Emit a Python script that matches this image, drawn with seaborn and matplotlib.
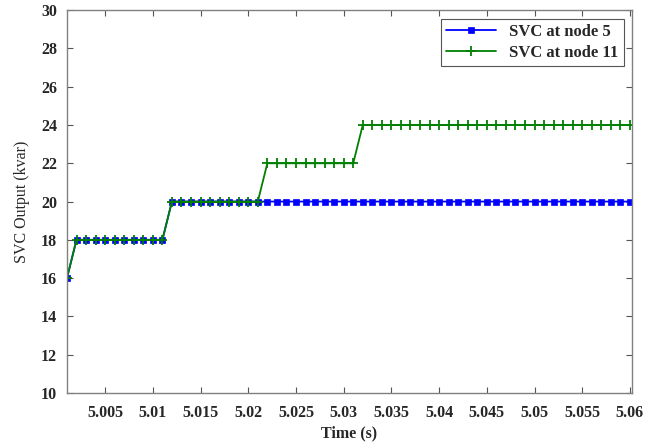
import matplotlib
matplotlib.use("Agg")
import matplotlib.pyplot as plt
import seaborn as sns
import pandas as pd

# Sample times (s), one sample per millisecond
time_s = [5.001, 5.002, 5.003, 5.004, 5.005, 5.006, 5.007, 5.008, 5.009, 5.010,
          5.011, 5.012, 5.013, 5.014, 5.015, 5.016, 5.017, 5.018, 5.019, 5.020,
          5.021, 5.022, 5.023, 5.024, 5.025, 5.026, 5.027, 5.028, 5.029, 5.030,
          5.031, 5.032, 5.033, 5.034, 5.035, 5.036, 5.037, 5.038, 5.039, 5.040,
          5.041, 5.042, 5.043, 5.044, 5.045, 5.046, 5.047, 5.048, 5.049, 5.050,
          5.051, 5.052, 5.053, 5.054, 5.055, 5.056, 5.057, 5.058, 5.059, 5.060]

# SVC reactive power output (kvar)
svc_node5 = [16, 18, 18, 18, 18, 18, 18, 18, 18, 18,
             18, 20, 20, 20, 20, 20, 20, 20, 20, 20,
             20, 20, 20, 20, 20, 20, 20, 20, 20, 20,
             20, 20, 20, 20, 20, 20, 20, 20, 20, 20,
             20, 20, 20, 20, 20, 20, 20, 20, 20, 20,
             20, 20, 20, 20, 20, 20, 20, 20, 20, 20]
svc_node11 = [16, 18, 18, 18, 18, 18, 18, 18, 18, 18,
              18, 20, 20, 20, 20, 20, 20, 20, 20, 20,
              20, 22, 22, 22, 22, 22, 22, 22, 22, 22,
              22, 24, 24, 24, 24, 24, 24, 24, 24, 24,
              24, 24, 24, 24, 24, 24, 24, 24, 24, 24,
              24, 24, 24, 24, 24, 24, 24, 24, 24, 24]

x_ticks = [5.005, 5.01, 5.015, 5.02, 5.025, 5.03, 5.035, 5.04, 5.045, 5.05, 5.055, 5.06]
x_tick_labels = ["5.005", "5.01", "5.015", "5.02", "5.025", "5.03", "5.035",
                 "5.04", "5.045", "5.05", "5.055", "5.06"]
y_ticks = [10, 12, 14, 16, 18, 20, 22, 24, 26, 28, 30]

sns.set_style("ticks")
plt.rcParams["font.family"] = ["Liberation Serif", "DejaVu Serif"]

df = pd.DataFrame({"t": time_s, "n5": svc_node5, "n11": svc_node11})

fig = plt.figure(figsize=(6.63, 4.43), dpi=100)
ax = fig.add_axes([0.101, 0.113, 0.852, 0.864])

blue = "#0000ff"
green = "#008000"
sns.lineplot(data=df, x="t", y="n5", ax=ax, color=blue, marker="s",
             markersize=4.5, markeredgecolor=blue, markerfacecolor=blue,
             markeredgewidth=0.5, linewidth=1.3, label="SVC at node 5")
sns.lineplot(data=df, x="t", y="n11", ax=ax, color=green, marker="+",
             markersize=6.5, markeredgecolor=green, markeredgewidth=1.3,
             linewidth=1.3, label="SVC at node 11")

ax.set_xlim(5.001, 5.0602)
ax.set_ylim(10, 30)
ax.set_xticks(x_ticks)
ax.set_xticklabels(x_tick_labels)
ax.set_yticks(y_ticks)

for lbl in ax.get_xticklabels() + ax.get_yticklabels():
    lbl.set_fontweight("bold")
    lbl.set_fontsize(11.5)

ax.tick_params(direction="in", top=True, right=True, length=4, width=0.8,
               color="#555555", pad=7)
ax.tick_params(axis="x", pad=9)
for sp in ax.spines.values():
    sp.set_color("#808080")
    sp.set_linewidth(1.0)

ax.set_xlabel("Time (s)", fontsize=11.5, fontweight="bold", labelpad=3)
ax.set_ylabel("SVC Output (kvar)", fontsize=11.5, labelpad=8)

leg = ax.legend(loc="upper right", fancybox=False, framealpha=1,
                edgecolor="#555555", borderaxespad=0.5, handlelength=3,
                borderpad=0.3, labelspacing=0.3,
                prop={"weight": "bold", "size": 12})
leg.get_frame().set_linewidth(0.8)

fig.savefig("out.png", dpi=100)
